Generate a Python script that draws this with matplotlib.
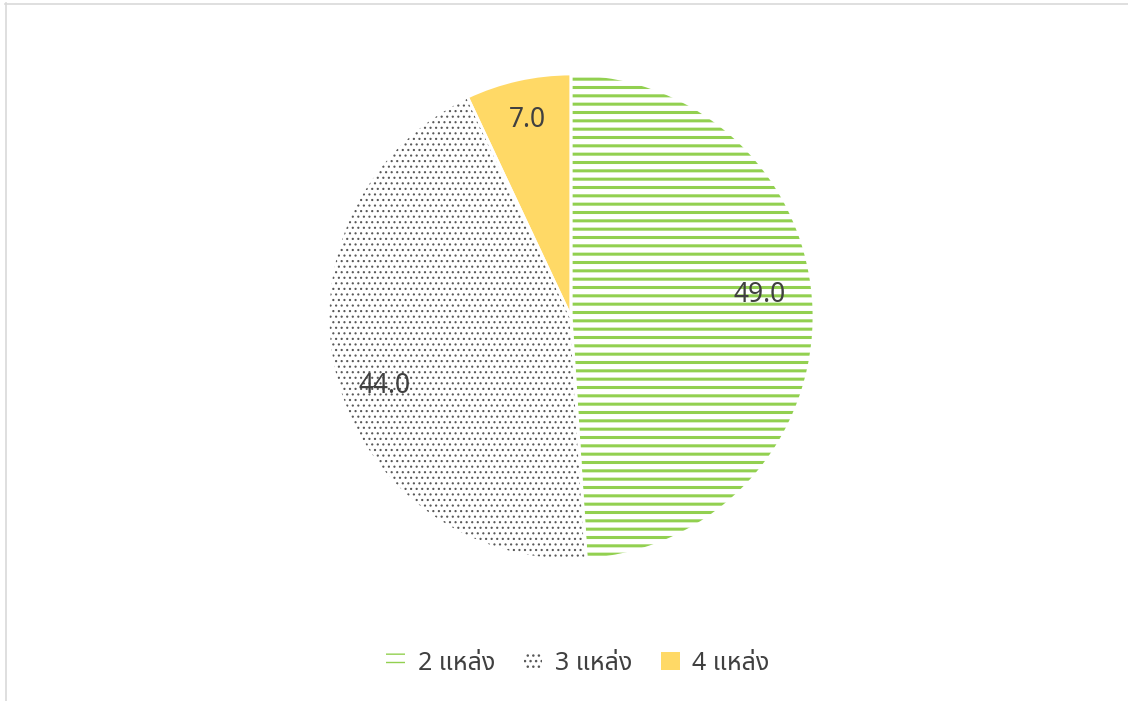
import numpy as np
import matplotlib
matplotlib.use("Agg")
import matplotlib.pyplot as plt
from matplotlib.lines import Line2D

plt.rcParams["font.family"] = ["Noto Sans Thai", "Noto Sans", "DejaVu Sans"]

# data
labels = ["2 แหล่ง", "3 แหล่ง", "4 แหล่ง"]
values = [49.0, 44.0, 7.0]

# styles
hatches = ["--", "...", None]
hatch_colors = ["#92D050", "#595959", "#FFD966"]
face_colors = ["white", "white", "#FFD966"]
hatch_lw = [2.2, 0.8, 0]
text_color = "#404040"

W, H = 1128, 701
fig = plt.figure(figsize=(W / 100, H / 100), dpi=100)

# light grey frame (only top and left edges show in the crop)
fig.lines.append(Line2D([5 / W, 1.0], [1 - 3.5 / H, 1 - 3.5 / H], transform=fig.transFigure,
                        color="#D9D9D9", linewidth=1.2))
fig.lines.append(Line2D([5.5 / W, 5.5 / W], [0, 1 - 3 / H], transform=fig.transFigure,
                        color="#D9D9D9", linewidth=1.2))

cx, cy, r = 571, 317, 243
ax = fig.add_axes([(cx - r) / W, (H - cy - r) / H, 2 * r / W, 2 * r / H])

wedges, _ = ax.pie(values, startangle=90, counterclock=False, radius=1,
                   colors=face_colors, wedgeprops=dict(linewidth=0))
for w, h, hc, lw in zip(wedges, hatches, hatch_colors, hatch_lw):
    w.set_edgecolor(hc)
    if h:
        w.set_hatch(h)
        w.set_hatch_linewidth(lw)
    w.set_linewidth(0)

# white separators between slices
ax.pie(values, startangle=90, counterclock=False, radius=1,
       wedgeprops=dict(fill=False, edgecolor="white", linewidth=2))

# value labels
label_r = [0.78, 0.82, 0.83]
label_shift = [5, 6, 0]
for w, v, lr, sh in zip(wedges, values, label_r, label_shift):
    mid = np.deg2rad((w.theta1 + w.theta2) / 2 + sh)
    ax.text(lr * np.cos(mid), lr * np.sin(mid), f"{v:.1f}", ha="center",
            va="center", fontsize=19, color=text_color, fontweight="light")

ax.set_xlim(-1, 1)
ax.set_ylim(-1, 1)
ax.set_aspect("equal")
ax.axis("off")

leg = fig.legend(wedges, labels, loc="center", bbox_to_anchor=(578 / W, 1 - 663 / H),
                 ncol=3, frameon=False, fontsize=18, handlelength=0.75,
                 handleheight=0.75, handletextpad=0.5, columnspacing=1.15)
for t in leg.get_texts():
    t.set_color(text_color)

fig.savefig("out.png", dpi=100)
